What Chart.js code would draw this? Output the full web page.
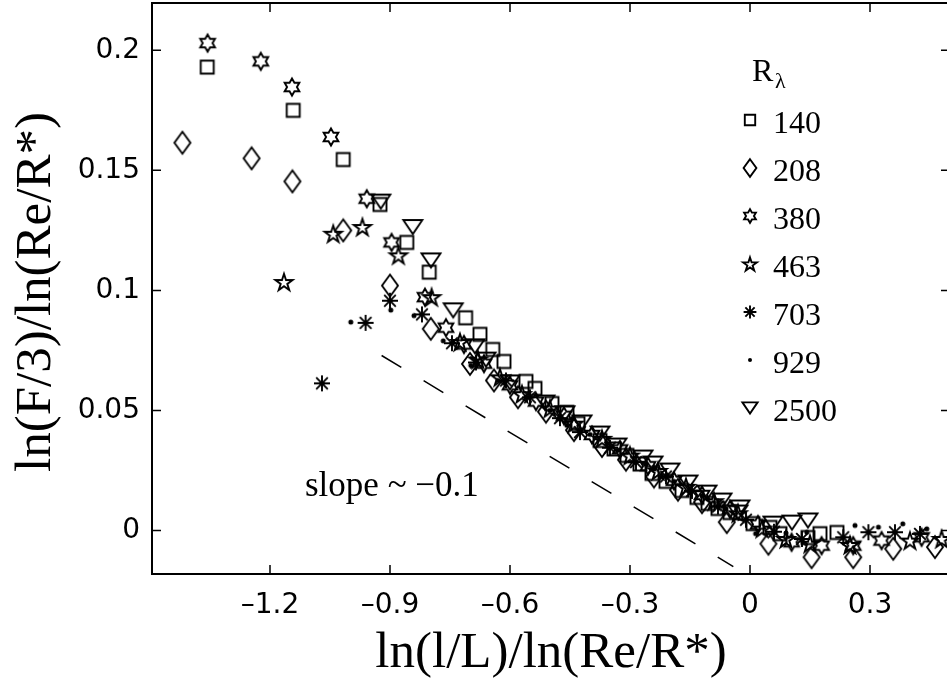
<!DOCTYPE html>
<html>
<head>
<meta charset="utf-8">
<script src="https://cdn.jsdelivr.net/npm/chart.js@4.4.0/dist/chart.umd.min.js"></script>
<style>
  html, body { margin: 0; padding: 0; background: #fff; overflow: hidden; }
  #wrap { width: 960px; height: 682px; }
</style>
</head>
<body>
<div id="wrap"><canvas id="chart" width="960" height="682"></canvas></div>
<script>
// one series per R_lambda value
const rLambda = ['140', '208', '380', '463', '703', '929', '2500'];
const markerKinds = ['square', 'diamond', 'hexagram', 'pentagram', 'asterisk', 'dot', 'triangle'];

// values: x = ln(l/L)/ln(Re/R*), y = ln(F/3)/ln(Re/R*)
const re140X = [-1.357, -1.142, -1.017, -0.925, -0.858, -0.802, -0.711, -0.675, -0.643, -0.615, -0.56, -0.5375, -0.495, -0.4575, -0.43, -0.375, -0.34, -0.3075, -0.275, -0.245, -0.21, -0.17, -0.1325, -0.105, -0.08, -0.05, 0.0075, 0.05, 0.075, 0.145, 0.175, 0.2175];
const re140Y = [0.193, 0.175, 0.1545, 0.1358, 0.120, 0.1076, 0.0886, 0.0817, 0.0754, 0.0704, 0.0621, 0.0592, 0.0529, 0.0492, 0.0446, 0.0375, 0.034, 0.0313, 0.0277, 0.0238, 0.0205, 0.0167, 0.0138, 0.0113, 0.0092, 0.0075, 0.0029, 0.0013, -0.0013, -0.0029, -0.0013, -0.0008];

const re208X = [-1.419, -1.246, -1.144, -1.017, -0.9, -0.798, -0.7, -0.64, -0.58, -0.51, -0.44, -0.37, -0.31, -0.24, -0.18, -0.12, -0.058, 0.046, 0.154, 0.258, 0.358, 0.4625];
const re208Y = [0.1615, 0.155, 0.1454, 0.125, 0.102, 0.084, 0.0694, 0.0625, 0.0555, 0.0495, 0.0418, 0.0352, 0.0295, 0.0225, 0.017, 0.0118, 0.0035, -0.0055, -0.0111, -0.0111, -0.0076, -0.0069];

const re380X = [-1.356, -1.223, -1.145, -1.0475, -0.958, -0.896, -0.8125, -0.76, -0.715, -0.665, -0.6, -0.535, -0.465, -0.395, -0.325, -0.255, -0.19, -0.12, -0.05, 0.02, 0.104, 0.179, 0.258, 0.329, 0.429];
const re380Y = [0.203, 0.1954, 0.1847, 0.1639, 0.1382, 0.120, 0.0972, 0.0845, 0.0775, 0.0695, 0.0605, 0.0537, 0.0478, 0.0398, 0.0338, 0.0268, 0.0207, 0.0148, 0.0088, 0.0025, -0.0049, -0.0063, -0.0063, -0.0042, -0.0028];

const re463X = [-1.165, -1.042, -0.969, -0.879, -0.796, -0.725, -0.68, -0.625, -0.57, -0.5, -0.44, -0.37, -0.3, -0.23, -0.16, -0.09, -0.03, 0.03, 0.09, 0.15, 0.25, 0.4, 0.479];
const re463Y = [0.1035, 0.1236, 0.1264, 0.1146, 0.0972, 0.0785, 0.0712, 0.0638, 0.0568, 0.0508, 0.0445, 0.0382, 0.0312, 0.0248, 0.0182, 0.0122, 0.0072, 0.0008, -0.0035, -0.0055, -0.006, -0.0042, -0.0035];

const re703X = [-1.07, -0.961, -0.9, -0.82, -0.745, -0.685, -0.61, -0.55, -0.475, -0.425, -0.35, -0.285, -0.21, -0.145, -0.08, -0.01, 0.06, 0.13, 0.233, 0.296, 0.3625, 0.425];
const re703Y = [0.0613, 0.0865, 0.0957, 0.0900, 0.0780, 0.0700, 0.0625, 0.0555, 0.0468, 0.041, 0.0345, 0.0285, 0.0225, 0.0165, 0.0100, 0.0045, -0.0005, -0.0035, -0.0028, -0.0007, -0.0007, -0.0014];

const re929X = [-0.998, -0.898, -0.84, -0.767, -0.698, -0.63, -0.56, -0.5, -0.458, -0.4, -0.33, -0.26, -0.19, -0.12, -0.06, 0.014, 0.09, 0.142, 0.2625, 0.321, 0.382, 0.442];
const re929Y = [0.0868, 0.0918, 0.0895, 0.079, 0.0688, 0.0625, 0.0555, 0.050, 0.0438, 0.040, 0.0335, 0.0275, 0.0205, 0.0145, 0.009, -0.0013, -0.001, -0.0007, 0.0021, 0.0014, 0.0028, 0.0007];

const re2500X = [-0.923, -0.843, -0.7975, -0.742, -0.6875, -0.66, -0.6, -0.5125, -0.4625, -0.42, -0.375, -0.3325, -0.2675, -0.2425, -0.2, -0.155, -0.1075, -0.07, -0.03, -0.025, 0.0575, 0.105, 0.145];
const re2500Y = [0.137, 0.1264, 0.1125, 0.0917, 0.0767, 0.0712, 0.0617, 0.0533, 0.0488, 0.045, 0.0404, 0.0354, 0.0304, 0.0279, 0.025, 0.02, 0.0158, 0.0125, 0.0075, 0.0096, 0.0029, 0.0033, 0.0042];

// dashed reference line, slope ~ -0.1
const slopeX = [-0.921, -0.0417];
const slopeY = [0.0729, -0.015];

const xTicks = [-1.2, -0.9, -0.6, -0.3, 0, 0.3];
const xTickLabels = ['\u20131.2', '\u20130.9', '\u20130.6', '\u20130.3', '0', '0.3'];
const yTicks = [0, 0.05, 0.1, 0.15, 0.2];
const yTickLabels = ['0', '0.05', '0.1', '0.15', '0.2'];

const seriesX = [re140X, re208X, re380X, re463X, re703X, re929X, re2500X];
const seriesY = [re140Y, re208Y, re380Y, re463Y, re703Y, re929Y, re2500Y];

const SERIF = '"Liberation Serif", "Times New Roman", serif';
const SANS = '"DejaVu Sans", sans-serif';

// star outline with n points, point up
function starPath(g, n, ro, ri) {
    for (let k = 0; k < 2 * n; k++) {
        const r = k % 2 ? ri : ro;
        const a = -Math.PI / 2 + k * Math.PI / n;
        if (k === 0) g.moveTo(r * Math.cos(a), r * Math.sin(a));
        else g.lineTo(r * Math.cos(a), r * Math.sin(a));
    }
    g.closePath();
}

// Matlab-like open markers
function drawMarker(g, kind, s) {
    g.beginPath();
    switch (kind) {
        case 'square':
            g.rect(-6.5 * s, -6.5 * s, 13 * s, 13 * s);
            break;
        case 'diamond':
            g.moveTo(0, -11 * s); g.lineTo(8 * s, 0); g.lineTo(0, 11 * s); g.lineTo(-8 * s, 0); g.closePath();
            break;
        case 'hexagram':
            starPath(g, 6, 8.5 * s, 8.5 * s / Math.sqrt(3));
            break;
        case 'pentagram':
            g.translate(0, 0.8 * s);
            starPath(g, 5, 9 * s, 9 * s * 0.382);
            break;
        case 'asterisk':
            g.moveTo(0, -8 * s); g.lineTo(0, 8 * s);
            g.moveTo(-8 * s, 0); g.lineTo(8 * s, 0);
            g.moveTo(-5.8 * s, -5.8 * s); g.lineTo(5.8 * s, 5.8 * s);
            g.moveTo(-5.8 * s, 5.8 * s); g.lineTo(5.8 * s, -5.8 * s);
            break;
        case 'dot':
            g.arc(0, 0, 2.5 * s, 0, Math.PI * 2);
            g.fill();
            return;
        case 'triangle':
            g.moveTo(-9.5 * s, -7 * s); g.lineTo(9.5 * s, -7 * s); g.lineTo(0, 7 * s); g.closePath();
            break;
    }
    g.stroke();
}

function makeMarker(kind, s) {
    const c = document.createElement('canvas');
    c.width = c.height = 26;
    const g = c.getContext('2d');
    g.translate(13, 13);
    g.lineWidth = 1.9;
    g.strokeStyle = '#000';
    g.fillStyle = '#000';
    drawMarker(g, kind, s);
    return c;
}

const datasets = rLambda.map((lab, i) => ({
    label: lab,
    data: seriesX[i].map((x, j) => ({ x: x, y: seriesY[i][j] })),
    pointStyle: makeMarker(markerKinds[i], 1),
    pointRadius: 10,
    showLine: false
}));
datasets.push({
    label: 'slope',
    data: slopeX.map((x, j) => ({ x: x, y: slopeY[j] })),
    showLine: true,
    borderColor: '#000',
    borderWidth: 1.5,
    borderDash: [23, 26],
    pointRadius: 0
});

// box, inward ticks on all four sides
const matlabAxes = {
    id: 'matlabAxes',
    afterDraw(chart) {
        const { ctx, chartArea: a, scales } = chart;
        ctx.save();
        ctx.strokeStyle = '#000';
        ctx.lineWidth = 1.5;
        ctx.beginPath();
        scales.x.ticks.forEach(t => {
            const px = scales.x.getPixelForValue(t.value);
            ctx.moveTo(px, a.bottom); ctx.lineTo(px, a.bottom - 9);
            ctx.moveTo(px, a.top); ctx.lineTo(px, a.top + 9);
        });
        scales.y.ticks.forEach(t => {
            const py = scales.y.getPixelForValue(t.value);
            ctx.moveTo(a.left, py); ctx.lineTo(a.left + 9, py);
            ctx.moveTo(a.right, py); ctx.lineTo(a.right - 9, py);
        });
        ctx.stroke();
        ctx.lineWidth = 2;
        ctx.strokeRect(a.left, a.top, a.right - a.left, a.bottom - a.top);
        ctx.restore();
    }
};

// axis titles, legend and slope note
const matlabText = {
    id: 'matlabText',
    afterDraw(chart) {
        const { ctx, scales } = chart;
        ctx.save();
        ctx.fillStyle = '#000';
        ctx.textBaseline = 'alphabetic';

        ctx.font = '51px ' + SERIF;
        ctx.textAlign = 'center';
        ctx.fillText('ln(l/L)/ln(Re/R*)', 551, 667);
        ctx.save();
        ctx.translate(50, 292);
        ctx.rotate(-Math.PI / 2);
        ctx.fillText('ln(F/3)/ln(Re/R*)', 0, 0);
        ctx.restore();

        ctx.textAlign = 'left';
        ctx.font = '35px ' + SERIF;
        ctx.fillText('slope ~ \u22120.1', scales.x.getPixelForValue(-1.1125), scales.y.getPixelForValue(0.0144));

        // legend
        const lx = scales.x.getPixelForValue(0);
        ctx.font = '32px ' + SERIF;
        ctx.fillText('R', 752, 81);
        ctx.font = '22px ' + SERIF;
        ctx.fillText('\u03bb', 775, 88);
        ctx.font = '32px ' + SERIF;
        rLambda.forEach((lab, i) => {
            const ry = 122 + 48 * i;
            ctx.drawImage(makeMarker(markerKinds[i], 0.8), lx - 13, ry - 15);
            ctx.fillText(lab, 773, ry + 11);
        });
        ctx.restore();
    }
};

Chart.defaults.color = '#000';

new Chart(document.getElementById('chart'), {
    type: 'scatter',
    data: { datasets: datasets },
    options: {
        responsive: false,
        animation: false,
        layout: { autoPadding: false, padding: { top: 3, right: 10, left: 0, bottom: 0 } },
        plugins: { legend: { display: false }, tooltip: { enabled: false } },
        scales: {
            x: {
                type: 'linear',
                min: -1.495,
                max: 0.5,
                grid: { display: false, drawTicks: false },
                border: { display: false },
                ticks: {
                    padding: 15,
                    maxRotation: 0,
                    autoSkip: false,
                    font: { family: SANS, size: 28 },
                    callback: (v, i) => xTickLabels[i]
                },
                afterBuildTicks: s => { s.ticks = xTicks.map(v => ({ value: v })); },
                afterFit: s => { s.height = 108; s.paddingLeft = 0; s.paddingRight = 0; }
            },
            y: {
                type: 'linear',
                min: -0.0181,
                max: 0.2197,
                grid: { display: false, drawTicks: false },
                border: { display: false },
                ticks: {
                    padding: 12,
                    autoSkip: false,
                    font: { family: SANS, size: 28 },
                    callback: (v, i) => yTickLabels[i]
                },
                afterBuildTicks: s => { s.ticks = yTicks.map(v => ({ value: v })); },
                afterFit: s => { s.width = 152; s.paddingTop = 0; s.paddingBottom = 0; }
            }
        }
    },
    plugins: [matlabAxes, matlabText]
});
</script>
</body>
</html>
